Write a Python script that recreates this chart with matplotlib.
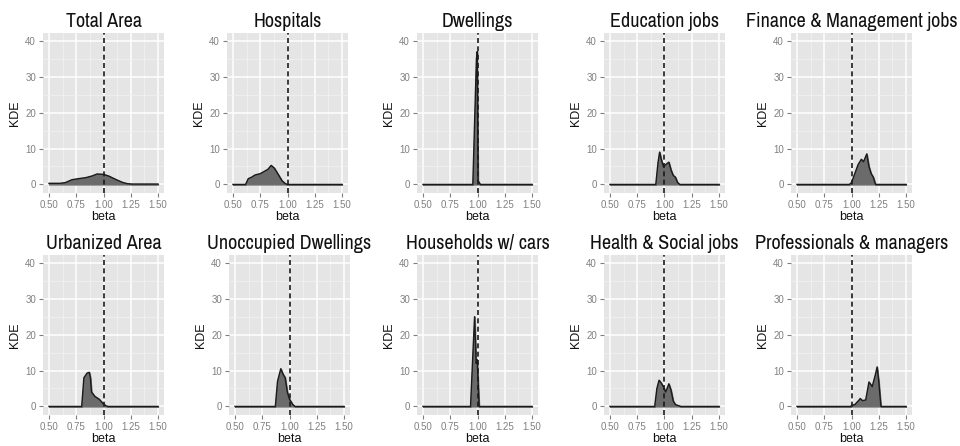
import matplotlib
matplotlib.use("Agg")
import matplotlib.pyplot as plt
from matplotlib.ticker import MultipleLocator
from matplotlib import font_manager

# look for a condensed sans face (the reference titles use a narrow Helvetica)
narrow = None
for f in font_manager.fontManager.ttflist:
    n = f.name.lower()
    if ("narrow" in n or "condensed" in n) and "mono" not in n and "serif" not in n.replace("sans", ""):
        narrow = f.name
        break
base_family = ['Liberation Sans', 'DejaVu Sans']
title_family = ([narrow] if narrow else []) + base_family
plt.rcParams['font.family'] = base_family
title_size = 14.5 if narrow else 12.2

titles = ["Total Area", "Hospitals", "Dwellings", "Education jobs", "Finance & Management jobs",
          "Urbanized Area", "Unoccupied Dwellings", "Households w/ cars", "Health & Social jobs",
          "Professionals & managers"]

total_area_x = [0.50, 0.60, 0.65, 0.71, 0.75, 0.84, 0.90, 0.94, 1.00, 1.05, 1.09, 1.14, 1.18, 1.22, 1.26, 1.50]
total_area_y = [0.3, 0.3, 0.5, 1.3, 1.5, 1.9, 2.4, 2.9, 2.8, 2.3, 1.7, 1.0, 0.5, 0.2, 0.1, 0.1]

hospitals_x = [0.50, 0.615, 0.64, 0.67, 0.70, 0.75, 0.78, 0.82, 0.85, 0.88, 0.92, 0.95, 0.98, 1.00, 1.50]
hospitals_y = [0.0, 0.0, 1.6, 2.0, 2.6, 3.0, 3.5, 4.2, 5.3, 4.5, 2.5, 1.0, 0.2, 0.0, 0.0]

dwellings_x = [0.50, 0.957, 0.99, 0.997, 1.005, 1.015, 1.025, 1.50]
dwellings_y = [0.0, 0.0, 35.0, 37.0, 1.0, 0.5, 0.0, 0.0]

education_x = [0.50, 0.92, 0.94, 0.955, 0.97, 0.99, 1.01, 1.04, 1.06, 1.08, 1.10, 1.12, 1.14, 1.50]
education_y = [0.0, 0.0, 6.0, 9.0, 7.0, 5.0, 5.5, 6.2, 4.0, 2.5, 2.0, 0.5, 0.0, 0.0]

finance_x = [0.50, 0.98, 1.00, 1.03, 1.06, 1.09, 1.11, 1.14, 1.16, 1.18, 1.20, 1.22, 1.50]
finance_y = [0.0, 0.0, 0.5, 3.0, 5.5, 7.0, 6.3, 8.5, 5.0, 3.0, 2.0, 0.0, 0.0]

urbanized_x = [0.50, 0.80, 0.82, 0.85, 0.87, 0.88, 0.89, 0.92, 0.96, 0.99, 1.02, 1.04, 1.50]
urbanized_y = [0.0, 0.0, 8.0, 9.3, 9.5, 8.0, 4.0, 2.8, 2.0, 1.0, 0.2, 0.0, 0.0]

unoccupied_x = [0.50, 0.87, 0.89, 0.92, 0.94, 0.96, 0.98, 1.00, 1.03, 1.05, 1.50]
unoccupied_y = [0.0, 0.0, 7.0, 10.5, 9.0, 8.0, 4.0, 2.0, 0.5, 0.0, 0.0]

cars_x = [0.50, 0.936, 0.973, 0.988, 0.997, 1.015, 1.50]
cars_y = [0.0, 0.0, 25.0, 12.0, 13.0, 0.0, 0.0]

health_x = [0.50, 0.91, 0.93, 0.95, 0.97, 0.99, 1.01, 1.03, 1.04, 1.06, 1.08, 1.10, 1.15, 1.50]
health_y = [0.0, 0.0, 5.0, 7.3, 6.5, 5.5, 4.0, 5.5, 6.3, 4.5, 1.5, 0.5, 0.0, 0.0]

prof_x = [0.50, 0.995, 1.00, 1.03, 1.07, 1.08, 1.10, 1.13, 1.16, 1.19, 1.22, 1.235, 1.25, 1.27, 1.50]
prof_y = [0.0, 0.0, 0.3, 0.5, 1.8, 2.2, 1.6, 1.8, 6.8, 5.5, 9.0, 11.0, 7.0, 0.0, 0.0]

curves = [(total_area_x, total_area_y), (hospitals_x, hospitals_y), (dwellings_x, dwellings_y),
          (education_x, education_y), (finance_x, finance_y), (urbanized_x, urbanized_y),
          (unoccupied_x, unoccupied_y), (cars_x, cars_y), (health_x, health_y), (prof_x, prof_y)]

x_ticks = [0.5, 0.75, 1.0, 1.25, 1.5]
x_ticklabels = ["0.50", "0.75", "1.00", "1.25", "1.50"]
y_ticks = [0, 10, 20, 30, 40]

W, H = 960, 446
fig = plt.figure(figsize=(W / 100, H / 100), dpi=100)

lefts_top = [43, 227, 417, 604, 791]
lefts_bot = [43, 229, 417, 604, 791]
aw, ah = 121, 160
tops = [33, 255]

for i, (title, (xs, ys)) in enumerate(zip(titles, curves)):
    row, col = divmod(i, 5)
    left = (lefts_top if row == 0 else lefts_bot)[col]
    top = tops[row]
    ax = fig.add_axes([left / W, (H - top - ah) / H, aw / W, ah / H])
    ax.set_facecolor("#E5E5E5")
    ax.set_xlim(0.445, 1.555)
    ax.set_ylim(-2.4, 42.2)
    ax.xaxis.set_minor_locator(MultipleLocator(0.125))
    ax.yaxis.set_minor_locator(MultipleLocator(5))
    ax.grid(which="major", color="white", linewidth=1.1)
    ax.grid(which="minor", color="#F2F2F2", linewidth=0.5)
    ax.set_axisbelow(True)
    for s in ax.spines.values():
        s.set_visible(False)
    ax.fill_between(xs, ys, 0, color="#6B6B6B", zorder=2)
    ax.plot(xs, ys, color="#1a1a1a", linewidth=1.0, zorder=3)
    ax.axvline(1.0, color="#1a1a1a", linestyle=(0, (3, 2)), linewidth=1.2, zorder=4)
    ax.set_xticks(x_ticks)
    ax.set_xticklabels(x_ticklabels)
    ax.set_yticks(y_ticks)
    ax.tick_params(which="major", length=3, width=0.8, color="#7F7F7F",
                   labelcolor="#808080", labelsize=7, pad=2)
    ax.tick_params(which="minor", length=0)
    ax.set_title(title, fontsize=title_size, color="#111111", pad=4, family=title_family)
    ax.set_xlabel("beta", fontsize=9, color="#111111", labelpad=1)
    ax.set_ylabel("KDE", fontsize=9, color="#111111", labelpad=3)

fig.savefig("out.png", dpi=100)
